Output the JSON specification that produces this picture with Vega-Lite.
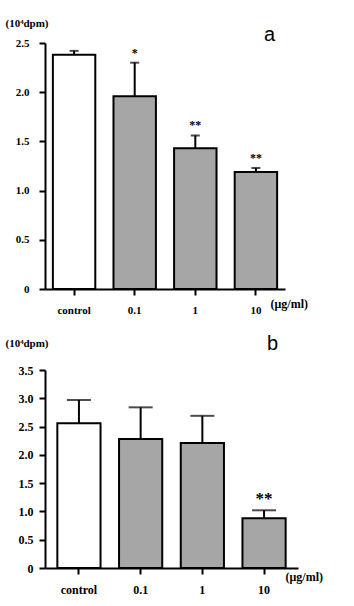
{
  "$schema": "https://vega.github.io/schema/vega-lite/v6.json",
  "background": "white",
  "padding": {"left": 5, "top": 17, "right": 5, "bottom": 5},
  "spacing": 81,
  "bounds": "flush",
  "config": {
    "view": {"stroke": null},
    "font": "Liberation Serif",
    "axis": {
      "labelFont": "Liberation Serif", "labelFontWeight": "bold", "labelFontSize": 11, "labelColor": "black", "labelOverlap": false,
      "domainColor": "black", "domainWidth": 2, "tickColor": "black", "tickWidth": 2, "tickSize": 6,
      "grid": false, "titleFont": "Liberation Serif", "titleFontWeight": "bold", "titleFontSize": 11, "titleColor": "black"
    }
  },
  "vconcat": [
    {
      "width": 240,
      "height": 246,
      "title": {"text": "a", "anchor": "end", "frame": "group", "font": "Liberation Sans", "fontSize": 20, "fontWeight": "normal", "offset": -28, "dx": -10, "color": "black"},
      "data": {"values": [
        {"dose": "control", "mean": 2.38, "upper": 2.42, "group": "control", "sig": ""},
        {"dose": "0.1", "mean": 1.96, "upper": 2.30, "group": "treated", "sig": "*"},
        {"dose": "1", "mean": 1.43, "upper": 1.56, "group": "treated", "sig": "**"},
        {"dose": "10", "mean": 1.19, "upper": 1.23, "group": "treated", "sig": "**"}
      ]},
      "encoding": {
        "x": {"field": "dose", "type": "nominal", "sort": null,
          "scale": {"paddingInner": 0.3, "paddingOuter": 0.13},
          "axis": {"labelAngle": 0, "labelPadding": 9, "title": "(μg/ml)", "titleX": 225, "titleY": 14, "titleAlign": "left", "titleBaseline": "middle", "titleFontSize": 12}}
      },
      "layer": [
        {"mark": {"type": "rule", "strokeWidth": 2, "color": "black"},
         "encoding": {
           "y": {"field": "mean", "type": "quantitative", "scale": {"domain": [0, 2.5]},
             "axis": {"values": [0, 0.5, 1, 1.5, 2, 2.5], "labelExpr": "datum.value == 0 ? '0' : format(datum.value, '.1f')", "labelPadding": 10,
               "title": "(10⁴dpm)", "titleAngle": 0, "titleAlign": "left", "titleBaseline": "middle", "titleX": -40, "titleY": -20}},
           "y2": {"field": "upper"}}},
        {"mark": {"type": "tick", "size": 9, "thickness": 2, "color": "black"},
         "encoding": {"y": {"field": "upper", "type": "quantitative", "scale": {"domain": [0, 2.5]},
             "axis": {"values": [0, 0.5, 1, 1.5, 2, 2.5], "labelExpr": "datum.value == 0 ? '0' : format(datum.value, '.1f')", "labelPadding": 10,
               "title": "(10⁴dpm)", "titleAngle": 0, "titleAlign": "left", "titleBaseline": "middle", "titleX": -40, "titleY": -20}}}},
        {"mark": {"type": "bar", "stroke": "black", "strokeWidth": 2},
         "encoding": {
           "y": {"field": "mean", "type": "quantitative", "scale": {"domain": [0, 2.5]},
             "axis": {"values": [0, 0.5, 1, 1.5, 2, 2.5], "labelExpr": "datum.value == 0 ? '0' : format(datum.value, '.1f')", "labelPadding": 10,
               "title": "(10⁴dpm)", "titleAngle": 0, "titleAlign": "left", "titleBaseline": "middle", "titleX": -40, "titleY": -20}},
           "fill": {"field": "group", "type": "nominal", "scale": {"domain": ["control", "treated"], "range": ["white", "#a6a6a6"]}, "legend": null}}},
        {"mark": {"type": "text", "baseline": "bottom", "dy": -3, "fontSize": 12, "fontWeight": "bold", "font": "Liberation Serif", "color": "black"},
         "encoding": {"y": {"field": "upper", "type": "quantitative", "scale": {"domain": [0, 2.5]},
             "axis": {"values": [0, 0.5, 1, 1.5, 2, 2.5], "labelExpr": "datum.value == 0 ? '0' : format(datum.value, '.1f')", "labelPadding": 10,
               "title": "(10⁴dpm)", "titleAngle": 0, "titleAlign": "left", "titleBaseline": "middle", "titleX": -40, "titleY": -20}}, "text": {"field": "sig"}}}
      ]
    },
    {
      "width": 253,
      "height": 198,
      "title": {"text": "b", "anchor": "end", "frame": "group", "font": "Liberation Sans", "fontSize": 20, "fontWeight": "normal", "offset": -17, "dx": -20, "color": "black"},
      "data": {"values": [
        {"dose": "control", "mean": 2.56, "upper": 2.97, "group": "control", "sig": ""},
        {"dose": "0.1", "mean": 2.28, "upper": 2.84, "group": "treated", "sig": ""},
        {"dose": "1", "mean": 2.21, "upper": 2.69, "group": "treated", "sig": ""},
        {"dose": "10", "mean": 0.88, "upper": 1.02, "group": "treated", "sig": "**"}
      ]},
      "encoding": {
        "x": {"field": "dose", "type": "nominal", "sort": null,
          "scale": {"paddingInner": 0.3, "paddingOuter": 0.2},
          "axis": {"labelAngle": 0, "labelPadding": 10, "labelFontSize": 12, "title": "(μg/ml)", "titleX": 240, "titleY": 8, "titleAlign": "left", "titleBaseline": "middle", "titleFontSize": 12}}
      },
      "layer": [
        {"mark": {"type": "rule", "strokeWidth": 2, "color": "black"},
         "encoding": {
           "y": {"field": "mean", "type": "quantitative", "scale": {"domain": [0, 3.5]},
             "axis": {"values": [0, 0.5, 1, 1.5, 2, 2.5, 3, 3.5], "labelExpr": "datum.value == 0 ? '0' : format(datum.value, '.1f')", "labelPadding": 6, "labelFontSize": 12,
               "title": "(10⁴dpm)", "titleAngle": 0, "titleAlign": "left", "titleBaseline": "middle", "titleX": -40, "titleY": -27}},
           "y2": {"field": "upper"}}},
        {"mark": {"type": "tick", "size": 24, "thickness": 2, "color": "black"},
         "encoding": {"y": {"field": "upper", "type": "quantitative", "scale": {"domain": [0, 3.5]},
             "axis": {"values": [0, 0.5, 1, 1.5, 2, 2.5, 3, 3.5], "labelExpr": "datum.value == 0 ? '0' : format(datum.value, '.1f')", "labelPadding": 6, "labelFontSize": 12,
               "title": "(10⁴dpm)", "titleAngle": 0, "titleAlign": "left", "titleBaseline": "middle", "titleX": -40, "titleY": -27}}}},
        {"mark": {"type": "bar", "stroke": "black", "strokeWidth": 2},
         "encoding": {
           "y": {"field": "mean", "type": "quantitative", "scale": {"domain": [0, 3.5]},
             "axis": {"values": [0, 0.5, 1, 1.5, 2, 2.5, 3, 3.5], "labelExpr": "datum.value == 0 ? '0' : format(datum.value, '.1f')", "labelPadding": 6, "labelFontSize": 12,
               "title": "(10⁴dpm)", "titleAngle": 0, "titleAlign": "left", "titleBaseline": "middle", "titleX": -40, "titleY": -27}},
           "fill": {"field": "group", "type": "nominal", "scale": {"domain": ["control", "treated"], "range": ["white", "#a6a6a6"]}, "legend": null}}},
        {"mark": {"type": "text", "baseline": "bottom", "dy": -2, "fontSize": 17, "fontWeight": "bold", "font": "Liberation Serif", "color": "black"},
         "encoding": {"y": {"field": "upper", "type": "quantitative", "scale": {"domain": [0, 3.5]},
             "axis": {"values": [0, 0.5, 1, 1.5, 2, 2.5, 3, 3.5], "labelExpr": "datum.value == 0 ? '0' : format(datum.value, '.1f')", "labelPadding": 6, "labelFontSize": 12,
               "title": "(10⁴dpm)", "titleAngle": 0, "titleAlign": "left", "titleBaseline": "middle", "titleX": -40, "titleY": -27}}, "text": {"field": "sig"}}}
      ]
    }
  ]
}
